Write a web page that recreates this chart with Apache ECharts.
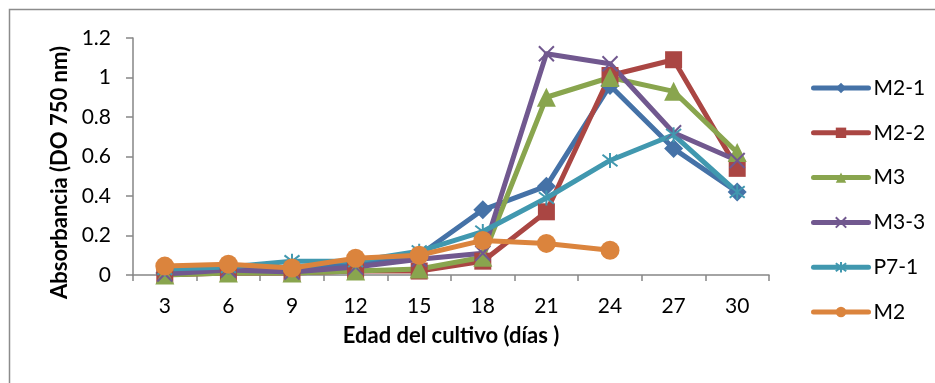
<!DOCTYPE html>
<html>
<head>
<meta charset="utf-8">
<script src="https://cdn.jsdelivr.net/npm/echarts@6/dist/echarts.min.js"></script>
<style>
  html, body { margin: 0; padding: 0; background: #fff; }
  #chart { width: 935px; height: 383px; }
</style>
</head>
<body>
<div id="chart"></div>
<script>
// Culture age (days)
const dias = ['3', '6', '9', '12', '15', '18', '21', '24', '27', '30'];

// Absorbance (OD 750 nm) per strain
const m2_1 = [0.01, 0.03, 0.02, 0.06, 0.10, 0.33, 0.45, 0.96, 0.64, 0.42];
const m2_2 = [0.00, 0.01, 0.01, 0.02, 0.02, 0.07, 0.32, 1.01, 1.09, 0.54];
const m3   = [0.00, 0.01, 0.01, 0.02, 0.03, 0.09, 0.90, 1.00, 0.93, 0.62];
const m3_3 = [0.005, 0.025, 0.015, 0.04, 0.08, 0.11, 1.12, 1.07, 0.72, 0.58];
const p7_1 = [0.03, 0.04, 0.07, 0.07, 0.12, 0.22, 0.39, 0.58, 0.71, 0.42];
const m2   = [0.045, 0.055, 0.035, 0.085, 0.10, 0.175, 0.16, 0.125, null, null];

const yTicks = { min: 0, max: 1.2, interval: 0.2 };

const FONT = 'Lato';
const crossPath = 'path://M0 0L10 10M10 0L0 10';
const starPath = 'path://M0 0L10 10M10 0L0 10M5 -1.5L5 11.5';

function lineSeries(name, data, color, symbol, size, stroked) {
  return {
    name: name,
    type: 'line',
    data: data,
    symbol: symbol,
    symbolSize: size,
    connectNulls: false,
    lineStyle: { color: color, width: 5, cap: 'round', join: 'round' },
    itemStyle: stroked
      ? { color: 'rgba(0,0,0,0)', borderColor: color, borderWidth: 2 }
      : { color: color, borderColor: color, borderWidth: 0 },
    emphasis: { disabled: true },
    animation: false
  };
}

const chart = echarts.init(document.getElementById('chart'));
chart.setOption({
  backgroundColor: '#ffffff',
  animation: false,
  graphic: [{
    type: 'rect',
    shape: { x: 9.5, y: 9.5, width: 1000, height: 1000 },
    style: { fill: 'none', stroke: '#8c8c8c', lineWidth: 1.5 },
    silent: true
  }],
  grid: { left: 133, right: 166, top: 38, bottom: 108, containLabel: false },
  legend: {
    orient: 'vertical',
    left: 806,
    top: 72,
    itemWidth: 55,
    itemHeight: 13,
    itemGap: 22.8,
    lineStyle: { width: 5, cap: 'round' },
    textStyle: { fontFamily: FONT, fontSize: 21, lineHeight: 22, color: '#000' },
    data: ['M2-1', 'M2-2', 'M3', 'M3-3', 'P7-1', 'M2']
  },
  xAxis: {
    type: 'category',
    data: dias,
    boundaryGap: true,
    name: 'Edad del cultivo (días )',
    nameLocation: 'middle',
    nameGap: 50,
    nameTextStyle: { fontFamily: FONT, fontSize: 22, fontWeight: 'bold', color: '#000' },
    axisLine: { lineStyle: { color: '#868686', width: 1.5 } },
    axisTick: { show: true, length: 6, lineStyle: { color: '#868686', width: 1.5 } },
    axisLabel: { fontFamily: FONT, fontSize: 21, color: '#000', margin: 21 },
    splitLine: { show: false }
  },
  yAxis: {
    type: 'value',
    min: yTicks.min,
    max: yTicks.max,
    interval: yTicks.interval,
    name: 'Absorbancia (DO 750 nm)',
    nameLocation: 'middle',
    nameGap: 61,
    nameTextStyle: {
      fontFamily: FONT, fontSize: 22, fontWeight: 'bold', color: '#000',
      padding: [0, 32, 0, 0]
    },
    axisLine: { show: true, lineStyle: { color: '#868686', width: 1.5 } },
    axisTick: { show: true, length: 7, lineStyle: { color: '#868686', width: 1.5 } },
    axisLabel: {
      fontFamily: FONT, fontSize: 21, color: '#000', margin: 22,
      formatter: v => String(Math.round(v * 10) / 10)
    },
    splitLine: { show: false }
  },
  series: [
    lineSeries('M2-1', m2_1, '#4572A7', 'diamond', 19, false),
    lineSeries('M2-2', m2_2, '#AA4643', 'rect', 17, false),
    lineSeries('M3', m3, '#89A54E', 'triangle', 19, false),
    lineSeries('M3-3', m3_3, '#71588F', crossPath, 15, true),
    lineSeries('P7-1', p7_1, '#4198AF', starPath, 15, true),
    lineSeries('M2', m2, '#DB843D', 'circle', 19, false)
  ]
});
</script>
</body>
</html>
